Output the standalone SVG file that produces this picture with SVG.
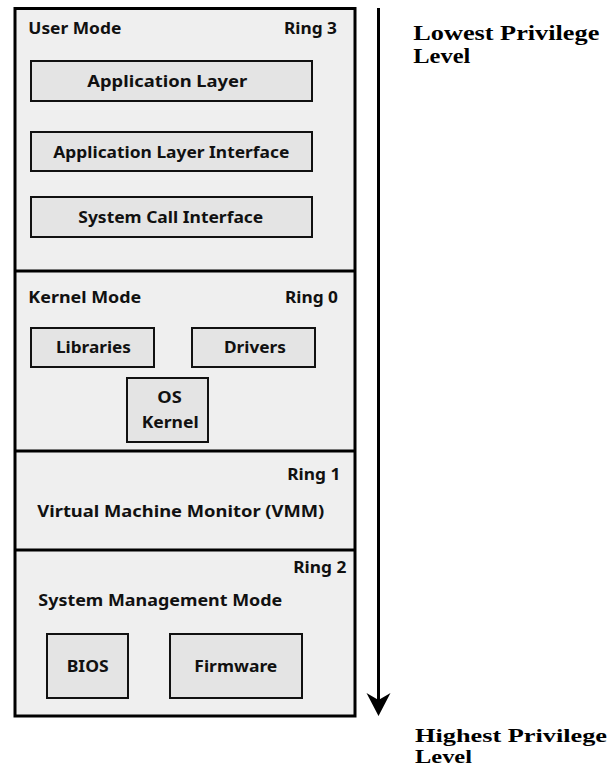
<svg xmlns="http://www.w3.org/2000/svg" width="610" height="767" viewBox="0 0 610 767">
<style>
.outer{fill:#efefef;stroke:#000;stroke-width:3}
.div{stroke:#000;stroke-width:2.8;fill:none}
.box{fill:#e4e4e4;stroke:#111;stroke-width:2}
.t{font-family:"Noto Sans","Open Sans","Liberation Sans",sans-serif;font-weight:bold;font-size:15.5px;fill:#111}
.s{font-family:"Liberation Serif","Times New Roman",serif;font-weight:bold;font-size:20px;fill:#000}
.s2{font-family:"Liberation Serif","Times New Roman",serif;font-weight:bold;font-size:19px;fill:#000}
.arrow{stroke:#000;stroke-width:3;fill:none}
.head{fill:#000}
</style>
<g id="frame">
<rect class="outer" x="15" y="8.5" width="340" height="707.5"/>
<line class="div" x1="15" y1="271" x2="355" y2="271"/>
<line class="div" x1="15" y1="451" x2="355" y2="451"/>
<line class="div" x1="15" y1="550" x2="355" y2="550"/>
</g>
<g id="user-mode">
<text class="t" x="28.3" y="34" textLength="93" lengthAdjust="spacingAndGlyphs">User Mode</text>
<text class="t" x="284" y="34" textLength="53" lengthAdjust="spacingAndGlyphs">Ring 3</text>
</g>
<g id="app-layer">
<rect class="box" x="31" y="61" width="281" height="40"/>
<text class="t" x="87.3" y="87" textLength="160" lengthAdjust="spacingAndGlyphs">Application Layer</text>
</g>
<g id="app-layer-interface">
<rect class="box" x="31" y="132" width="281" height="39"/>
<text class="t" x="53.3" y="158" textLength="236" lengthAdjust="spacingAndGlyphs">Application Layer Interface</text>
</g>
<g id="syscall-interface">
<rect class="box" x="31" y="197" width="281" height="40"/>
<text class="t" x="78.3" y="223" textLength="185" lengthAdjust="spacingAndGlyphs">System Call Interface</text>
</g>
<g id="kernel-mode">
<text class="t" x="28.3" y="303" textLength="113" lengthAdjust="spacingAndGlyphs">Kernel Mode</text>
<text class="t" x="285" y="303" textLength="53" lengthAdjust="spacingAndGlyphs">Ring 0</text>
</g>
<g id="libraries">
<rect class="box" x="31" y="328" width="123" height="39"/>
<text class="t" x="56" y="353" textLength="75" lengthAdjust="spacingAndGlyphs">Libraries</text>
</g>
<g id="drivers">
<rect class="box" x="192" y="328" width="123" height="39"/>
<text class="t" x="224" y="353" textLength="62" lengthAdjust="spacingAndGlyphs">Drivers</text>
</g>
<g id="os-kernel">
<rect class="box" x="127" y="378" width="81" height="64"/>
<text class="t" x="157.3" y="403" textLength="24.5" lengthAdjust="spacingAndGlyphs">OS</text>
<text class="t" x="141.7" y="428" textLength="57" lengthAdjust="spacingAndGlyphs">Kernel</text>
</g>
<g id="vmm">
<text class="t" x="287.3" y="480" textLength="53" lengthAdjust="spacingAndGlyphs">Ring 1</text>
<text class="t" x="37.3" y="517" textLength="287" lengthAdjust="spacingAndGlyphs">Virtual Machine Monitor (VMM)</text>
</g>
<g id="smm">
<text class="t" x="293.3" y="573" textLength="53" lengthAdjust="spacingAndGlyphs">Ring 2</text>
<text class="t" x="38.3" y="606" textLength="244" lengthAdjust="spacingAndGlyphs">System Management Mode</text>
</g>
<g id="bios">
<rect class="box" x="47" y="634" width="81" height="64"/>
<text class="t" x="66.7" y="672" textLength="42" lengthAdjust="spacingAndGlyphs">BIOS</text>
</g>
<g id="firmware">
<rect class="box" x="170" y="634" width="132" height="64"/>
<text class="t" x="194.3" y="672" textLength="83" lengthAdjust="spacingAndGlyphs">Firmware</text>
</g>
<g id="connectors">
<line class="arrow" x1="378.5" y1="8" x2="378.5" y2="702"/>
<path class="head" d="M366.5,693 L378.5,700 L390.5,693 L378.5,716 Z"/>
</g>
<g id="privilege-labels">
<text class="s" x="413.3" y="40" textLength="186" lengthAdjust="spacingAndGlyphs">Lowest Privilege</text>
<text class="s" x="413.3" y="63" textLength="57" lengthAdjust="spacingAndGlyphs">Level</text>
<text class="s2" x="415" y="741.5" textLength="192" lengthAdjust="spacingAndGlyphs">Highest Privilege</text>
<text class="s2" x="415" y="762.8" textLength="57" lengthAdjust="spacingAndGlyphs">Level</text>
</g>
</svg>
